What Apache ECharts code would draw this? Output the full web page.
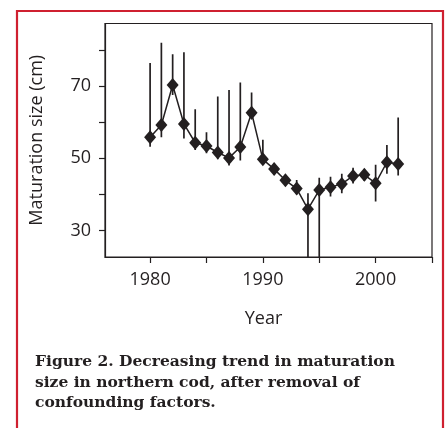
<!DOCTYPE html>
<html>
<head>
<meta charset="utf-8">
<script src="https://cdn.jsdelivr.net/npm/echarts@6/dist/echarts.min.js"></script>
<style>
html,body{margin:0;padding:0;background:#fff;}
#chart{width:445px;height:428px;}
</style>
</head>
<body>
<div id="chart"></div>
<script>
var years = [1980,1981,1982,1983,1984,1985,1986,1987,1988,1989,1990,1991,1992,1993,1994,1995,1996,1997,1998,1999,2000,2001,2002];
var values = [55.8,59.2,70.3,59.5,54.3,53.4,51.6,50.1,53.1,62.6,49.7,47.0,43.9,41.6,35.9,41.2,42.0,42.9,45.1,45.4,43.1,48.9,48.4];
var upper = [76.4,82.0,78.8,79.4,63.6,57.2,67.1,68.9,71.0,68.2,55.1,48.5,45.1,44.0,40.3,44.6,44.9,45.7,47.4,46.8,48.2,53.7,61.3];
var lower = [53.2,55.8,67.5,55.5,52.3,51.4,49.7,48.0,49.4,60.8,48.2,45.5,42.7,40.0,15.0,15.0,39.4,40.3,43.0,43.7,38.0,45.7,45.2];
var xLabels = [1980,1990,2000];
var xTicks = [1980,1985,1990,1995,2000,2005];
var yLabels = [30,50,70];
var yTicks = [30,40,50,60,70,80];
var caption = 'Figure 2. Decreasing trend in maturation\nsize in northern cod, after removal of\nconfounding factors.';

var ink = '#231f20';
var chart = echarts.init(document.getElementById('chart'));
var pts = years.map(function(y,i){return [y, values[i]];});
var bars = years.map(function(y,i){return [y, lower[i], upper[i]];});

chart.setOption({
  animation:false,
  grid:{left:105, top:23.5, right:13, bottom:171, show:true, borderColor:ink, borderWidth:1.2, backgroundColor:'transparent'},
  xAxis:{
    type:'value', min:1976, max:2005,
    name:'Year', nameLocation:'middle', nameGap:53,
    nameTextStyle:{fontFamily:'Open Sans', fontSize:18, color:ink, padding:[0,10,0,0]},
    axisLine:{show:true, onZero:false, lineStyle:{color:ink, width:1.2}},
    axisTick:{show:true, length:6, customValues:xTicks, lineStyle:{color:ink, width:1.2}},
    axisLabel:{customValues:xLabels, margin:14, fontFamily:'Open Sans', fontSize:18, color:ink, formatter:function(v){return String(v);}},
    splitLine:{show:false}
  },
  yAxis:{
    type:'value', min:22.65, max:87.33,
    name:'Maturation size (cm)', nameLocation:'middle', nameGap:59, nameRotate:90,
    nameTextStyle:{fontFamily:'Open Sans', fontSize:18, color:ink},
    axisLine:{show:true, onZero:false, lineStyle:{color:ink, width:1.2}},
    axisTick:{show:true, length:6, customValues:yTicks, lineStyle:{color:ink, width:1.2}},
    axisLabel:{customValues:yLabels, margin:14, fontFamily:'Open Sans', fontSize:18, color:ink},
    splitLine:{show:false}
  },
  graphic:[
    {type:'rect', shape:{x:17, y:11, width:426, height:440}, style:{fill:'none', stroke:'#cf2030', lineWidth:2.2}, silent:true},
    {type:'text', left:35, top:352, style:{text:caption, fontFamily:'DejaVu Serif', fontWeight:'bold', fontSize:15.5, lineHeight:20.5, fill:ink}}
  ],
  series:[
    {
      type:'custom', clip:true, z:1,
      data:bars,
      encode:{x:0, y:[1,2]},
      renderItem:function(params, api){
        var a = api.coord([api.value(0), api.value(1)]);
        var b = api.coord([api.value(0), api.value(2)]);
        return {type:'line', shape:{x1:a[0], y1:a[1], x2:b[0], y2:b[1]}, style:{stroke:ink, lineWidth:1.7}};
      }
    },
    {
      type:'line', z:2, data:pts,
      symbol:'diamond', symbolSize:[12,14], showSymbol:true,
      lineStyle:{color:ink, width:1.5},
      itemStyle:{color:ink, borderWidth:0}
    }
  ]
});
</script>
</body>
</html>
